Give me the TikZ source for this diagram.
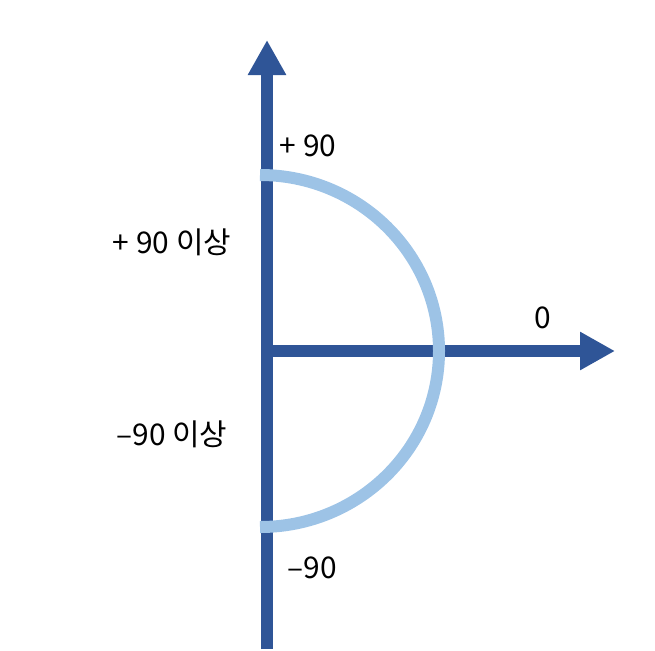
\documentclass[tikz,border=0pt]{standalone}
\usepackage{fontspec}
\usepackage{xcolor}
\usetikzlibrary{arrows.meta}
\setmainfont{Noto Sans CJK KR}
\definecolor{AxisBlue}{HTML}{2F5597}
\definecolor{ArcBlue}{HTML}{9DC3E6}
\tikzset{
  axis/.style={-{Triangle[length=7mm, width=7.2mm]}, line width=2.4mm, draw=AxisBlue},
  arcline/.style={line width=2.4mm, draw=ArcBlue},
  lbl/.style={font=\fontsize{17}{20}\selectfont, text=black, inner sep=0pt}
}
\begin{document}
\begin{tikzpicture}[x=0.2mm, y=-0.2mm]
  \useasboundingbox (0,0) rectangle (655,650);
  \coordinate (origin) at (267,351);
  \coordinate (top) at (267,40);
  \coordinate (bottom) at (267,649);
  \coordinate (right) at (615,351);
  \coordinate (arctop) at (260,175);

  \draw[axis] (bottom) -- (top);
  \draw[axis] (origin) -- (right);
  \draw[arcline] (arctop) arc[start angle=-90, end angle=90, x radius=179, y radius=176];

  \node[lbl] (pos90) at (308,146) {+ 90};
  \node[lbl] (posmore) at (172,242) {+ 90 이상};
  \node[lbl] (zero) at (543,318) {0};
  \node[lbl] (negmore) at (172,434) {–90 이상};
  \node[lbl] (neg90) at (312,568) {–90};
\end{tikzpicture}
\end{document}
